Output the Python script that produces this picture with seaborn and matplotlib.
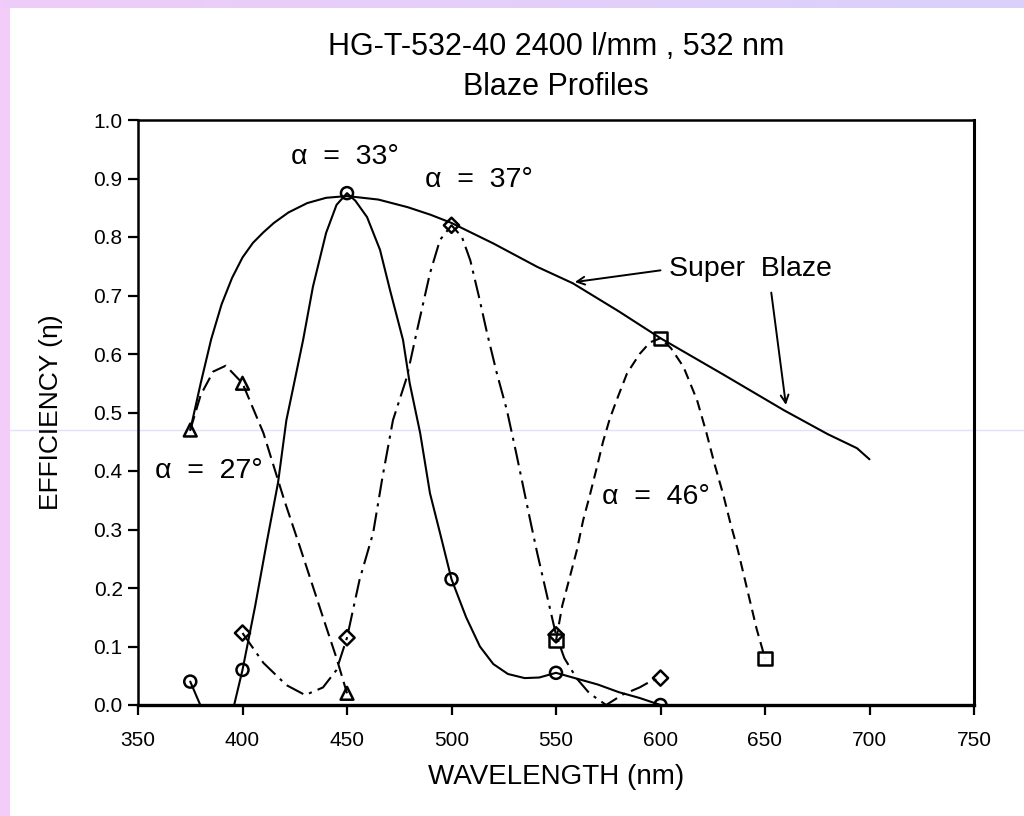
import numpy as np
import pandas as pd
import matplotlib
matplotlib.use("Agg")
import matplotlib.pyplot as plt
from matplotlib.lines import Line2D
import seaborn as sns

# ---- measured blaze data (wavelength in nm, efficiency 0..1) ----
# Super Blaze envelope
sb_wl = [375, 380, 385, 390, 395, 400, 405, 410, 415, 422, 431, 440, 450, 465, 479, 490, 500,
         520, 541, 558, 580, 600, 630, 659, 680, 694, 700]
sb_eff = [0.47, 0.55, 0.625, 0.685, 0.73, 0.765, 0.79, 0.808, 0.824, 0.842, 0.858, 0.867, 0.87,
          0.864, 0.851, 0.838, 0.824, 0.789, 0.749, 0.721, 0.673, 0.627, 0.565, 0.504, 0.463,
          0.439, 0.42]

# alpha = 27 deg
a27_wl = [375, 380, 386, 392, 400, 410, 420, 427.5, 438.5, 445, 450]
a27_eff = [0.47, 0.53, 0.57, 0.58, 0.55, 0.465, 0.35, 0.27, 0.15, 0.08, 0.02]
a27_mk_wl = [375, 400, 450]
a27_mk_eff = [0.47, 0.55, 0.02]

# alpha = 33 deg
a33_wl = [375, 378, 381, 386, 391, 396, 400, 406, 411.7, 417, 421, 424, 429, 433.7, 440, 445,
          450, 454, 459.6, 465.8, 470.6, 476.8, 480, 485, 489.7, 494.5, 500, 507, 513.6, 520,
          527, 535, 542, 550, 560, 570, 580, 590, 600]
a33_eff = [0.04, 0.015, -0.01, -0.03, -0.025, 0.0, 0.06, 0.168, 0.28, 0.38, 0.487, 0.538, 0.624,
           0.715, 0.807, 0.855, 0.875, 0.862, 0.834, 0.778, 0.709, 0.624, 0.55, 0.465, 0.362,
           0.294, 0.215, 0.15, 0.10, 0.07, 0.053, 0.046, 0.047, 0.055, 0.045, 0.035, 0.022,
           0.012, 0.0]
a33_mk_wl = [375, 400, 450, 500, 550, 600]
a33_mk_eff = [0.04, 0.06, 0.875, 0.215, 0.055, 0.0]

# alpha = 37 deg
a37_wl = [400, 410, 421, 430, 438.5, 445, 450, 456, 462.5, 467, 472, 478.6, 483.5, 489.7, 494.5,
          500, 505, 509, 513, 517, 521.7, 526.5, 531, 534.5, 538, 541, 545.5, 550, 554, 560,
          566, 574, 582, 590, 595, 600]
a37_eff = [0.123, 0.072, 0.034, 0.017, 0.03, 0.06, 0.115, 0.214, 0.294, 0.39, 0.487, 0.56, 0.64,
           0.738, 0.795, 0.82, 0.80, 0.76, 0.70, 0.636, 0.567, 0.504, 0.43, 0.37, 0.31, 0.26,
           0.19, 0.12, 0.08, 0.045, 0.02, 0.0, 0.018, 0.03, 0.04, 0.046]
a37_mk_wl = [400, 450, 500, 550, 600]
a37_mk_eff = [0.123, 0.115, 0.82, 0.12, 0.046]

# alpha = 46 deg
a46_wl = [550, 553, 556.7, 560, 563, 566, 569.6, 572.5, 575.8, 579, 584, 590, 595, 600, 605,
          611, 617.5, 622, 626, 630, 633.5, 637, 640, 643, 646, 650]
a46_eff = [0.11, 0.17, 0.22, 0.265, 0.316, 0.356, 0.407, 0.45, 0.49, 0.521, 0.567, 0.60, 0.62,
           0.627, 0.61, 0.578, 0.521, 0.465, 0.41, 0.36, 0.31, 0.265, 0.22, 0.175, 0.13, 0.08]
a46_mk_wl = [550, 600, 650]
a46_mk_eff = [0.11, 0.627, 0.08]

x_ticks = [350, 400, 450, 500, 550, 600, 650, 700, 750]
y_ticks = [0.0, 0.1, 0.2, 0.3, 0.4, 0.5, 0.6, 0.7, 0.8, 0.9, 1.0]

sns.set_theme(style="white")
plt.rcParams["font.family"] = ["Liberation Sans", "DejaVu Sans"]

W, H = 1024, 816
fig = plt.figure(figsize=(W / 100, H / 100), dpi=100, facecolor="white")

# slide-style coloured border strips
top = fig.add_axes([0, 1 - 8 / H, 1, 8 / H])
grad = np.linspace(0, 1, 256)[None, :]
cmap = matplotlib.colors.LinearSegmentedColormap.from_list("band", ["#efccf9", "#d9d1fc"])
top.imshow(grad, aspect="auto", cmap=cmap)
top.set_axis_off()
left = fig.add_axes([0, 0, 10 / W, 1 - 8 / H])
left.set_facecolor("#f4ccfa")
left.set_xticks([]); left.set_yticks([])
for s in left.spines.values():
    s.set_visible(False)

# faint guide line across the page
fig.add_artist(Line2D([10 / W, 1], [1 - 430 / H, 1 - 430 / H], transform=fig.transFigure,
                      color="#e2e2f2", lw=1.0, zorder=0))

ax = fig.add_axes([138 / W, 111 / H, 836 / W, 585 / H])
ax.set_facecolor("none")

line_kw = dict(ax=ax, color="black", lw=1.5, sort=False, estimator=None, legend=False)
sns.lineplot(x=sb_wl, y=sb_eff, linestyle="-", **line_kw)
sns.lineplot(x=a27_wl, y=a27_eff, linestyle=(0, (7, 3)), **line_kw)
sns.lineplot(x=a33_wl, y=a33_eff, linestyle="-", **line_kw)
sns.lineplot(x=a37_wl, y=a37_eff, linestyle=(0, (9, 3, 1.5, 3)), **line_kw)
sns.lineplot(x=a46_wl, y=a46_eff, linestyle=(0, (5, 3)), **line_kw)

mk_kw = dict(ax=ax, facecolor="none", edgecolor="black", linewidth=1.8, legend=False, zorder=5)
sns.scatterplot(x=a27_mk_wl, y=a27_mk_eff, marker="^", s=85, **mk_kw)
sns.scatterplot(x=a33_mk_wl, y=a33_mk_eff, marker="o", s=75, **mk_kw)
sns.scatterplot(x=a37_mk_wl, y=a37_mk_eff, marker="D", s=60, **mk_kw)
sns.scatterplot(x=a46_mk_wl, y=a46_mk_eff, marker="s", s=90, **mk_kw)

ax.set_xlim(350, 750)
ax.set_ylim(0, 1.0)
ax.set_xticks(x_ticks)
ax.set_xticklabels([str(v) for v in x_ticks], fontsize=15)
ax.set_yticks(y_ticks)
ax.set_yticklabels([f"{v:.1f}" for v in y_ticks], fontsize=15)
ax.tick_params(axis="both", direction="out", length=7, width=1.6, color="black",
               bottom=True, left=True, labelcolor="black")
ax.tick_params(axis="y", pad=4)
ax.tick_params(axis="x", pad=12)
for s in ax.spines.values():
    s.set_visible(True)
    s.set_color("black")
    s.set_linewidth(1.8)
ax.spines["bottom"].set_linewidth(2.4)
ax.spines["right"].set_linewidth(2.2)

ax.set_xlabel("WAVELENGTH (nm)", fontsize=20, labelpad=10, color="black")
ax.set_ylabel("EFFICIENCY (η)", fontsize=19, labelpad=22, color="black")
ax.set_title("HG-T-532-40 2400 l/mm , 532 nm\nBlaze Profiles", fontsize=22,
             linespacing=1.45, pad=18, color="black")

# curve labels
txt = dict(fontsize=20.5, color="black")
ax.text(449, 0.937, "α  =  33°", ha="center", va="center", **txt)
ax.text(513, 0.897, "α  =  37°", ha="center", va="center", **txt)
ax.text(358, 0.40, "α  =  27°", ha="left", va="center", **txt)
ax.text(572, 0.356, "α  =  46°", ha="left", va="center", **txt)
ax.text(604, 0.745, "Super  Blaze", ha="left", va="center", **txt)

arrow = dict(arrowstyle="->", lw=1.4, color="black", shrinkA=0, shrinkB=0,
             mutation_scale=14)
ax.annotate("", xy=(559, 0.723), xytext=(600, 0.743), arrowprops=arrow)
ax.annotate("", xy=(660, 0.513), xytext=(653, 0.705), arrowprops=arrow)

fig.savefig("out.png", dpi=100, facecolor="white")
